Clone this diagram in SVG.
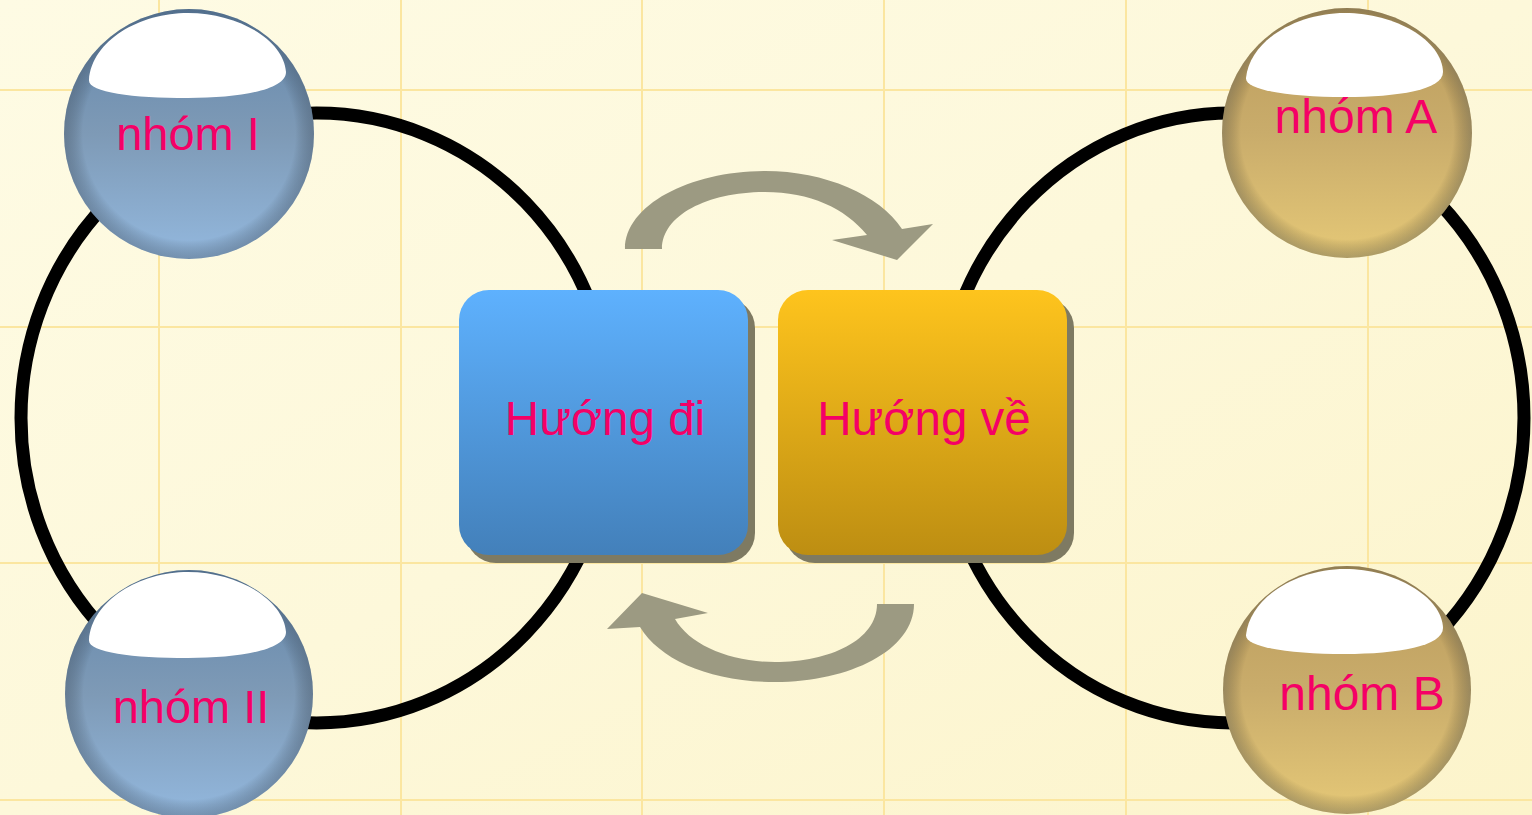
<svg xmlns="http://www.w3.org/2000/svg" width="1532" height="815" viewBox="0 0 1532 815">
<defs>
<linearGradient id="bg" x1="0" y1="0" x2="1" y2="1">
<stop offset="0" stop-color="#FEFBE4"/>
<stop offset="0.5" stop-color="#FDF8DA"/>
<stop offset="1" stop-color="#FCF4CB"/>
</linearGradient>
<linearGradient id="blueBox" x1="0" y1="0" x2="0" y2="1">
<stop offset="0" stop-color="#5EB1FE"/>
<stop offset="1" stop-color="#4380BA"/>
</linearGradient>
<linearGradient id="goldBox" x1="0" y1="0" x2="0" y2="1">
<stop offset="0" stop-color="#FEC41D"/>
<stop offset="1" stop-color="#BD8E12"/>
</linearGradient>
<linearGradient id="blueSph" x1="0" y1="0" x2="0" y2="1">
<stop offset="0" stop-color="#6387AC"/>
<stop offset="0.5" stop-color="#7E9AB6"/>
<stop offset="1" stop-color="#93B8DE"/>
</linearGradient>
<linearGradient id="goldSph" x1="0" y1="0" x2="0" y2="1">
<stop offset="0" stop-color="#BB9C5C"/>
<stop offset="0.5" stop-color="#C9AC6B"/>
<stop offset="1" stop-color="#E5C877"/>
</linearGradient>
<radialGradient id="rim" cx="0.5" cy="0.5" r="0.5">
<stop offset="0.85" stop-color="#000" stop-opacity="0"/>
<stop offset="1" stop-color="#2a3440" stop-opacity="0.3"/>
</radialGradient>
<style>
.grid{stroke:#FBE6A0;stroke-width:2}
.ring{fill:none;stroke:#000;stroke-width:13}
.shadow{fill:#7E7A62}
.hl{fill:#FFFFFF}
.lbl{font-family:"Liberation Sans",Arial,sans-serif;fill:#F50066;text-anchor:middle}
.arrow{fill:#9C9A82}
</style>
</defs>
<rect width="1532" height="815" fill="url(#bg)"/>
<g id="grid">
<line class="grid" x1="159" y1="0" x2="159" y2="815"/>
<line class="grid" x1="401" y1="0" x2="401" y2="815"/>
<line class="grid" x1="642" y1="0" x2="642" y2="815"/>
<line class="grid" x1="884" y1="0" x2="884" y2="815"/>
<line class="grid" x1="1126" y1="0" x2="1126" y2="815"/>
<line class="grid" x1="1368" y1="0" x2="1368" y2="815"/>
<line class="grid" x1="0" y1="90" x2="1532" y2="90"/>
<line class="grid" x1="0" y1="327" x2="1532" y2="327"/>
<line class="grid" x1="0" y1="563" x2="1532" y2="563"/>
<line class="grid" x1="0" y1="800" x2="1532" y2="800"/>
</g>
<g id="connectors">
<ellipse class="ring" cx="316.5" cy="418" rx="295.5" ry="305"/>
<ellipse class="ring" cx="1232" cy="418" rx="292" ry="305"/>
<path class="arrow" d="M625,249 C625,205 690,171 765,171 C825,171 880,195 902,229 L933,224 L897,260 L832,240 L867,235 C845,208 810,192 765,192 C708,192 662,215 662,249 Z"/>
<path class="arrow" d="M914,604 C914,650 850,682 775,682 C710,682 660,660 640,627 L607,629 L642,593 L708,613 L675,619 C690,645 730,662 775,662 C830,662 877,640 877,604 Z"/>
</g>
<g id="node-huong-di">
<rect class="shadow" x="466" y="298" width="289" height="265" rx="30"/>
<rect x="459" y="290" width="289" height="265" rx="30" fill="url(#blueBox)"/>
<text class="lbl" x="605" y="435" font-size="47.5">Hướng đi</text>
</g>
<g id="node-huong-ve">
<rect class="shadow" x="785" y="298" width="289" height="265" rx="30"/>
<rect x="778" y="290" width="289" height="265" rx="30" fill="url(#goldBox)"/>
<text class="lbl" x="924" y="435" font-size="47.5">Hướng về</text>
</g>
<g id="node-nhom-I">
<circle cx="189" cy="134" r="125" fill="url(#blueSph)"/>
<circle cx="189" cy="134" r="125" fill="url(#rim)"/>
<path class="hl" d="M89,80 C92,40 140,13 188,13 C238,13 284,40 286,72 C286,90 240,98 188,98 C132,98 88,92 89,80 Z"/>
<text class="lbl" x="188" y="150" font-size="47">nhóm I</text>
</g>
<g id="node-nhom-II">
<circle cx="189" cy="694" r="124" fill="url(#blueSph)"/>
<circle cx="189" cy="694" r="124" fill="url(#rim)"/>
<path class="hl" d="M89,640 C92,600 140,572 188,572 C238,572 284,600 286,632 C286,650 240,658 188,658 C132,658 88,652 89,640 Z"/>
<text class="lbl" x="191" y="723" font-size="47">nhóm II</text>
</g>
<g id="node-nhom-A">
<circle cx="1347" cy="133" r="125" fill="url(#goldSph)"/>
<circle cx="1347" cy="133" r="125" fill="url(#rim)"/>
<path class="hl" d="M1246,78 C1250,40 1297,13 1345,13 C1395,13 1442,40 1443,72 C1443,90 1398,97 1345,97 C1290,97 1245,90 1246,78 Z"/>
<text class="lbl" x="1356" y="133" font-size="48">nhóm A</text>
</g>
<g id="node-nhom-B">
<circle cx="1347" cy="690" r="124" fill="url(#goldSph)"/>
<circle cx="1347" cy="690" r="124" fill="url(#rim)"/>
<path class="hl" d="M1246,635 C1250,597 1297,569 1345,569 C1395,569 1442,597 1443,628 C1443,646 1398,654 1345,654 C1290,654 1245,647 1246,635 Z"/>
<text class="lbl" x="1362" y="710" font-size="48">nhóm B</text>
</g>
</svg>
